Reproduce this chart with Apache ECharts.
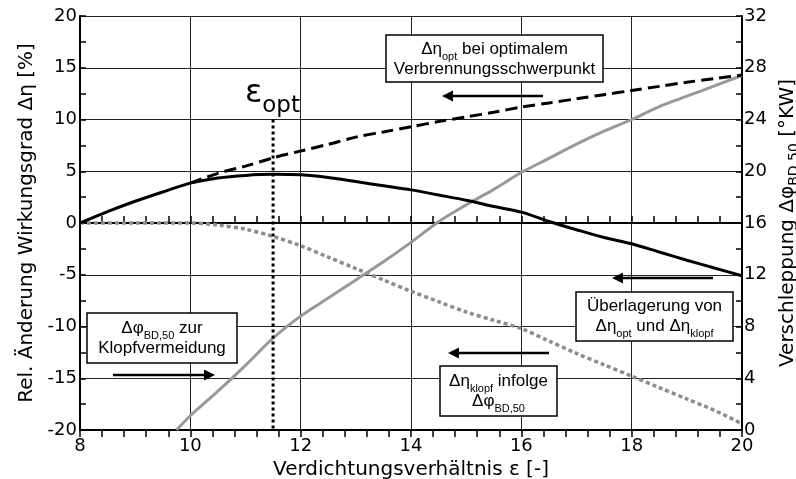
<!DOCTYPE html>
<html><head><meta charset="utf-8">
<script src="https://cdn.jsdelivr.net/npm/echarts@6/dist/echarts.min.js"></script>
<style>html,body{margin:0;padding:0;background:#fff}#c{width:796px;height:479px}</style>
</head><body><div id="c"></div>
<script>
// ---- data ----
const overlayX = [8, 8.5, 9, 9.5, 10, 10.5, 11, 11.5, 12, 12.5, 13, 13.5, 14, 14.5, 15, 15.5, 16, 16.5, 17, 17.5, 18, 18.5, 19, 19.5, 20];
const overlayY = [0, 1.1, 2.1, 3.0, 3.85, 4.35, 4.6, 4.7, 4.65, 4.4, 4.0, 3.6, 3.2, 2.7, 2.2, 1.6, 1.05, 0.15, -0.65, -1.4, -2.0, -2.8, -3.6, -4.35, -5.1];
const optX = [10, 10.5, 11, 11.5, 12, 12.5, 13, 13.5, 14, 14.5, 15, 15.5, 16, 16.5, 17, 17.5, 18, 18.5, 19, 19.5, 20];
const optY = [3.85, 4.8, 5.5, 6.3, 6.95, 7.6, 8.3, 8.8, 9.3, 9.8, 10.25, 10.7, 11.2, 11.6, 12.0, 12.4, 12.8, 13.2, 13.6, 13.95, 14.3];
const klopfX = [8, 9, 10, 10.5, 11, 11.5, 12, 12.5, 13, 13.5, 14, 14.5, 15, 15.5, 16, 16.5, 17, 17.5, 18, 18.5, 19, 19.5, 20];
const klopfY = [0, 0, 0, -0.2, -0.6, -1.3, -2.2, -3.3, -4.4, -5.5, -6.6, -7.6, -8.6, -9.4, -10.2, -11.4, -12.6, -13.7, -14.8, -15.9, -17.0, -18.1, -19.4];
const phiX = [9.75, 10, 10.5, 11, 11.5, 12, 12.5, 13, 13.5, 14, 14.5, 15, 15.5, 16, 16.5, 17, 17.5, 18, 18.5, 19, 19.5, 20];
const phiY = [0, 1.1, 3.0, 5.0, 7.1, 8.8, 10.2, 11.6, 13.0, 14.5, 16.1, 17.4, 18.6, 19.9, 21.0, 22.1, 23.1, 24.0, 25.0, 25.8, 26.6, 27.4];
const epsOpt = 11.5;
const epsOptLine = [10, -20];

const zip = (xs, ys) => xs.map((x, i) => [x, ys[i]]);
const AX = 'DejaVu Sans';
const BX = 'Liberation Sans';

const chart = echarts.init(document.getElementById('c'), null, {renderer: 'canvas'});

const tickStyle = {color: '#000', width: 1.5};
const xCommon = {
  type: 'value', min: 8, max: 20, interval: 2,
  axisLine: {lineStyle: {color: '#000', width: 2}},
  axisTick: {inside: true, length: 7, lineStyle: tickStyle},
  minorTick: {show: true, splitNumber: 5, length: 7, lineStyle: tickStyle},
};

// annotation helpers
function box(x, y, w, h) {
  return {type: 'rect', shape: {x: x, y: y, width: w, height: h}, style: {fill: '#fff', stroke: '#000', lineWidth: 1.5}, z: 100};
}
const richBox = {
  n: {fontFamily: BX, fontSize: 17, color: '#000', lineHeight: 20},
  s: {fontFamily: BX, fontSize: 11, color: '#000', lineHeight: 20, verticalAlign: 'bottom', padding: [0, 0, -3, 0]}
};
function txt(cx, cy, text) {
  return {type: 'text', x: cx, y: cy, z: 101,
    style: {text: text, rich: richBox, align: 'center', verticalAlign: 'middle', fontFamily: BX, fontSize: 17, fill: '#000', lineHeight: 20}};
}
function arrow(x1, x2, y) {
  const dir = x2 > x1 ? 1 : -1;
  const hx = x2 - dir * 11;
  return [
    {type: 'line', shape: {x1: x1, y1: y, x2: hx, y2: y}, style: {stroke: '#000', lineWidth: 2.5}, z: 100},
    {type: 'polygon', shape: {points: [[x2, y], [hx, y - 5.5], [hx, y + 5.5]]}, style: {fill: '#000'}, z: 100}
  ];
}

const option = {
  animation: false,
  backgroundColor: '#fff',
  grid: {left: 80, right: 54, top: 16, bottom: 49, containLabel: false, outerBoundsMode: 'none'},
  xAxis: [
    Object.assign({}, xCommon, {
      position: 'bottom',
      splitLine: {show: true, lineStyle: {color: '#222', width: 1}},
      axisLabel: {fontFamily: AX, fontSize: 18, color: '#000', margin: 7},
      name: 'Verdichtungsverhältnis ε [-]', nameLocation: 'middle', nameGap: 24,
      nameTextStyle: {fontFamily: AX, fontSize: 20, color: '#000'}
    }),
    Object.assign({}, xCommon, {
      position: 'top', axisLabel: {show: false}, splitLine: {show: false}
    })
  ],
  yAxis: [
    {
      type: 'value', min: -20, max: 20, interval: 5, position: 'left',
      axisLine: {show: true, lineStyle: {color: '#000', width: 2}},
      axisTick: {show: true, inside: true, length: 6, lineStyle: tickStyle},
      minorTick: {show: true, splitNumber: 2, length: 6, lineStyle: tickStyle},
      splitLine: {show: true, lineStyle: {color: '#222', width: 1}},
      axisLabel: {fontFamily: AX, fontSize: 18, color: '#000', margin: 3},
      name: 'Rel. Änderung Wirkungsgrad Δη [%]', nameLocation: 'middle', nameGap: 43,
      nameTextStyle: {fontFamily: AX, fontSize: 20, color: '#000'}
    },
    {
      type: 'value', min: 0, max: 32, interval: 4, position: 'right',
      axisLine: {show: true, lineStyle: {color: '#000', width: 2}},
      axisTick: {show: true, inside: true, length: 6, lineStyle: tickStyle},
      minorTick: {show: true, splitNumber: 2, length: 6, lineStyle: tickStyle},
      splitLine: {show: false},
      axisLabel: {fontFamily: AX, fontSize: 18, color: '#000', margin: 2},
      name: 'Verschleppung Δφ{s|BD,50} [°KW]', nameLocation: 'middle', nameGap: 28, nameRotate: 90,
      nameTextStyle: {fontFamily: AX, fontSize: 20, color: '#000',
        rich: {s: {fontFamily: AX, fontSize: 14, color: '#000', verticalAlign: 'bottom', padding: [0, 0, -4, 0]}}}
    }
  ],
  series: [
    {type: 'line', name: 'klopf', xAxisIndex: 0, yAxisIndex: 0, data: zip(klopfX, klopfY), symbol: 'none', smooth: 0.3,
      lineStyle: {color: '#8c8c8c', width: 3.5, type: [4, 3]}, z: 3},
    {type: 'line', name: 'phi', xAxisIndex: 0, yAxisIndex: 1, data: zip(phiX, phiY), symbol: 'none', smooth: 0.3,
      lineStyle: {color: '#999999', width: 3}, z: 3},
    {type: 'line', name: 'opt', xAxisIndex: 0, yAxisIndex: 0, data: zip(optX, optY), symbol: 'none', smooth: 0.3,
      lineStyle: {color: '#000', width: 3, type: [12, 6]}, z: 4},
    {type: 'line', name: 'overlay', xAxisIndex: 0, yAxisIndex: 0, data: zip(overlayX, overlayY), symbol: 'none', smooth: 0.3,
      lineStyle: {color: '#000', width: 3}, z: 5},
    {type: 'line', name: 'epsopt', xAxisIndex: 0, yAxisIndex: 0, data: epsOptLine.map(v => [epsOpt, v]), symbol: 'none',
      lineStyle: {color: '#000', width: 3, type: [3, 3]}, z: 6}
  ],
  graphic: [
    {type: 'text', x: 245, y: 118, z: 50,
      style: {text: '{e|ε}{o|opt}', verticalAlign: 'bottom', align: 'left',
        rich: {e: {fontFamily: AX, fontSize: 32, color: '#000', verticalAlign: 'bottom', padding: [0, 0, 8, 0]},
               o: {fontFamily: AX, fontSize: 23, color: '#000', verticalAlign: 'bottom'}}}},
    box(386, 35, 217, 47), txt(494.5, 59, '{n|Δη}{s|opt}{n| bei optimalem}\n{n|Verbrennungsschwerpunkt}'),
    ...arrow(543, 442, 96),
    box(87, 313, 150, 50), txt(162, 338, '{n|Δφ}{s|BD,50}{n| zur}\n{n|Klopfvermeidung}'),
    ...arrow(113, 215, 375),
    box(440, 366, 117, 50), txt(498.5, 391, '{n|Δη}{s|klopf}{n| infolge}\n{n|Δφ}{s|BD,50}'),
    ...arrow(549, 448, 353),
    box(576, 292, 157, 49), txt(654.5, 316.5, '{n|Überlagerung von}\n{n|Δη}{s|opt}{n| und Δη}{s|klopf}'),
    ...arrow(713, 612, 278)
  ]
};
chart.setOption(option);
</script>
</body></html>
